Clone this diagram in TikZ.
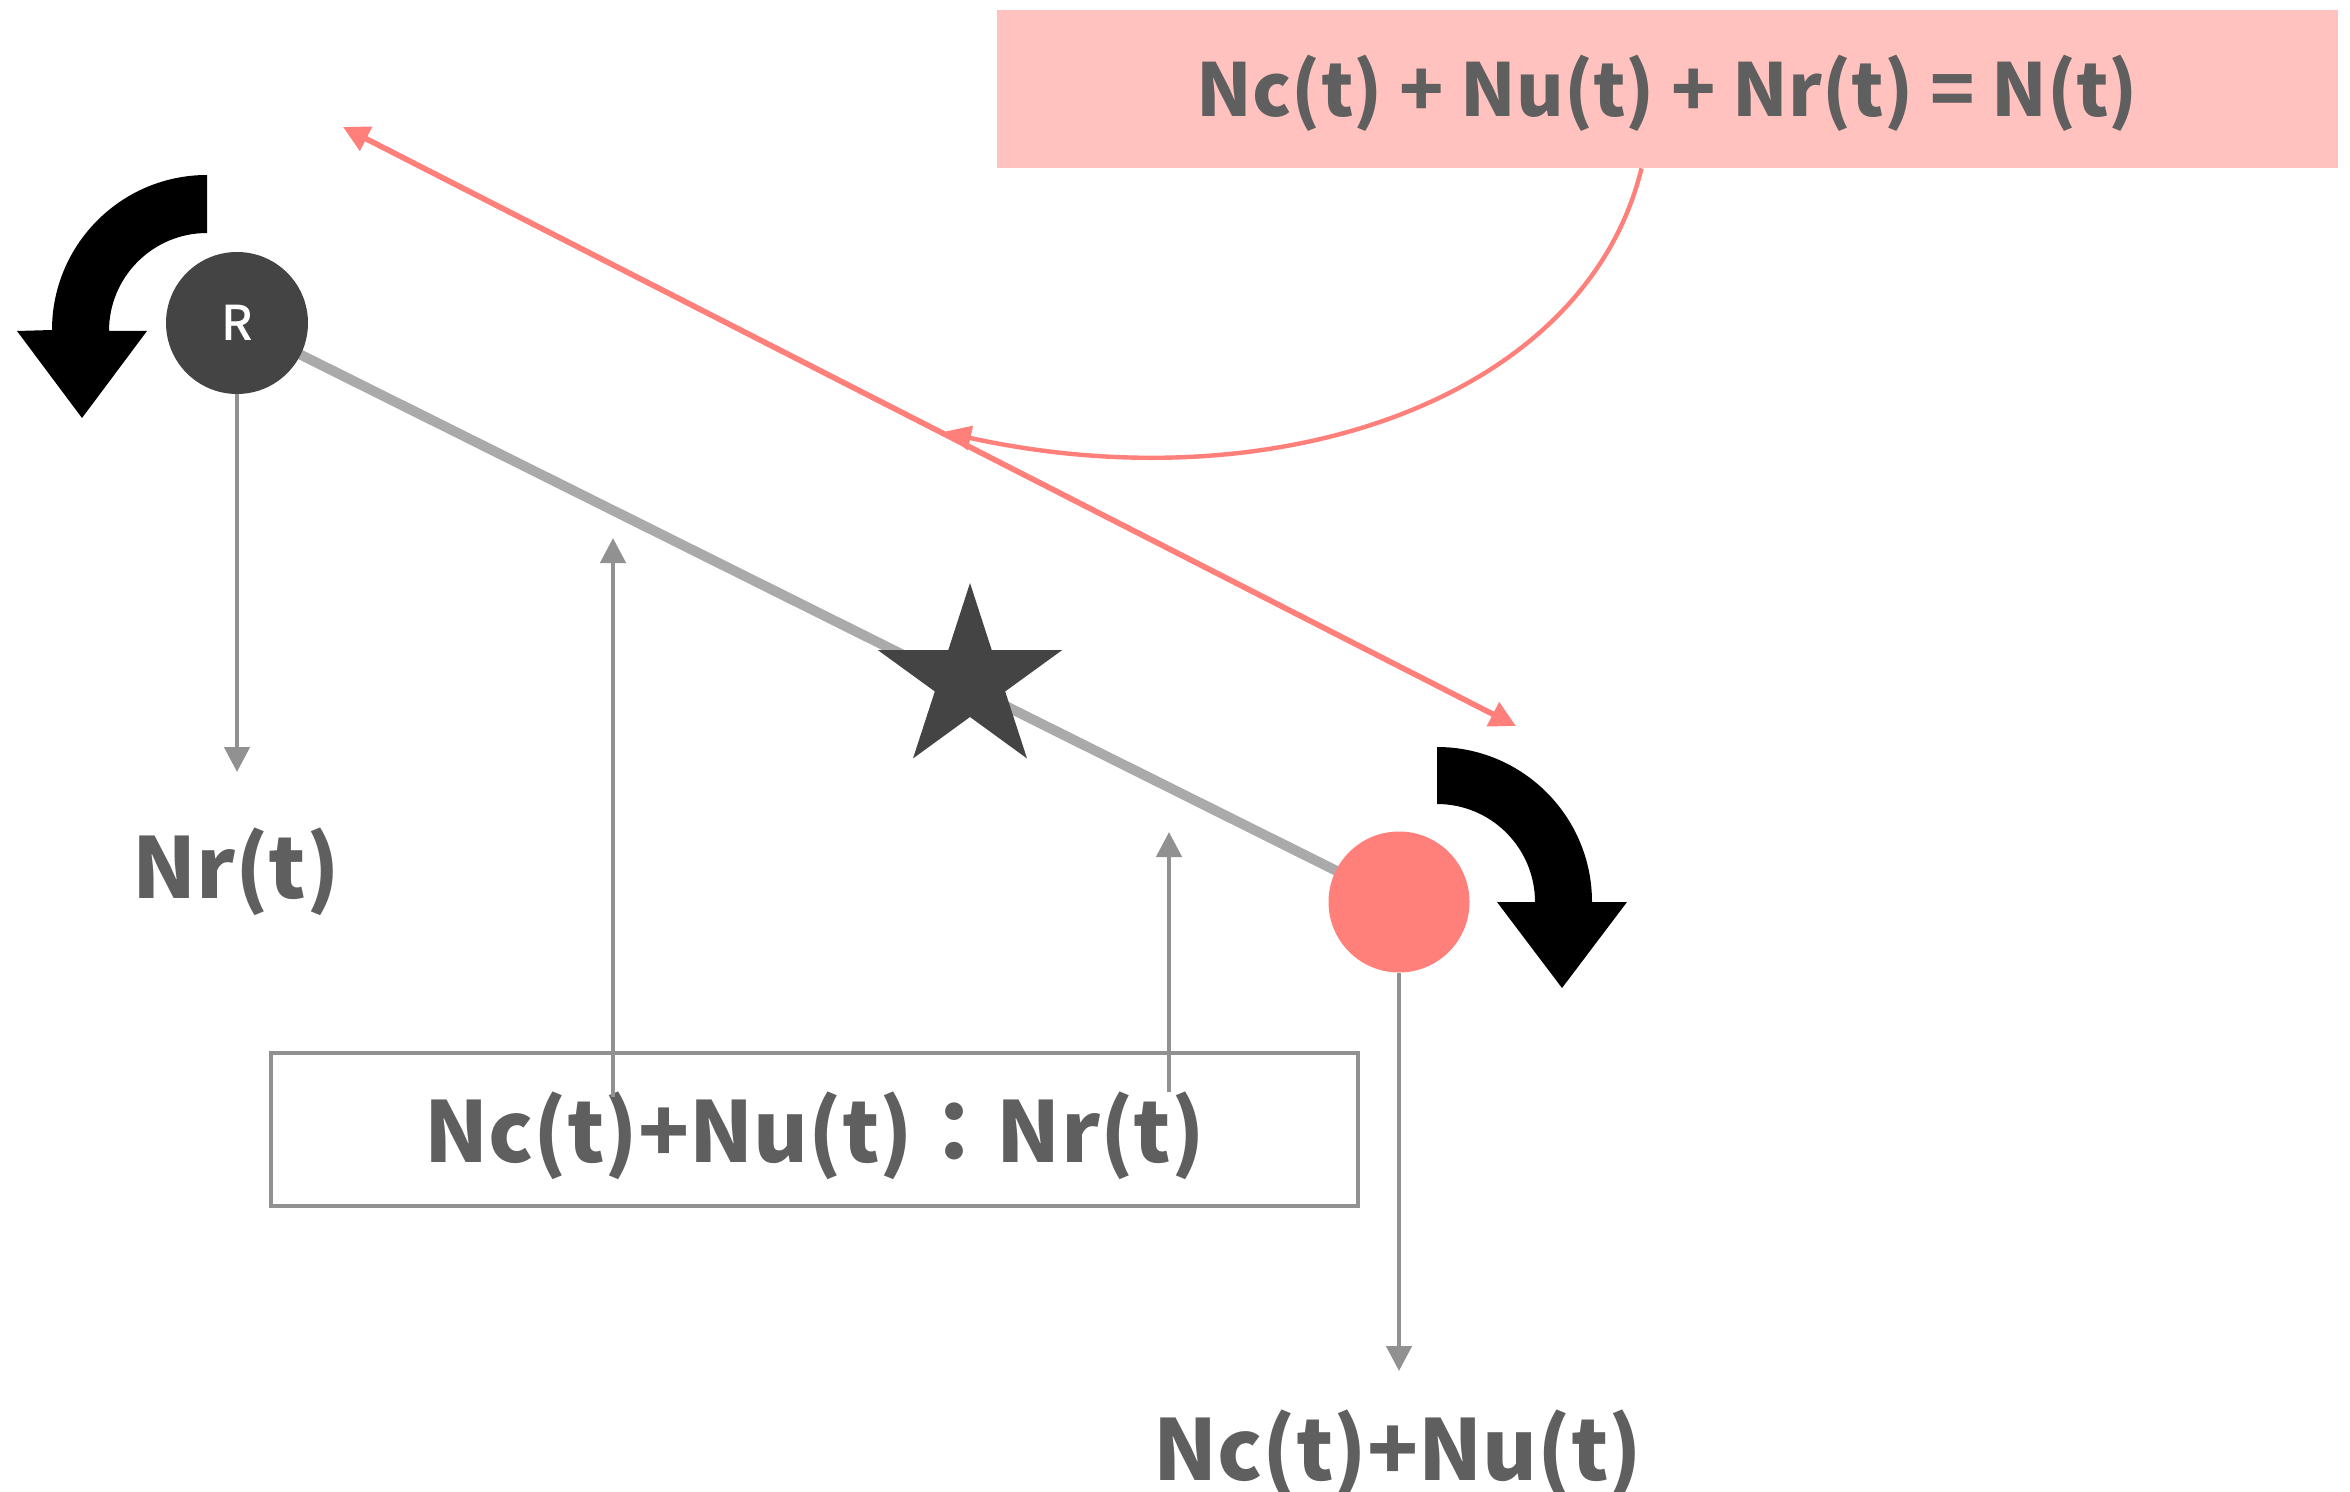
\documentclass[tikz,border=0pt]{standalone}
\usepackage{fontspec}
\newfontfamily\jpfont{Noto Sans CJK JP}
\newfontfamily\jpmed{Noto Sans CJK JP Medium}
\usetikzlibrary{arrows.meta,backgrounds}
\definecolor{redc}{RGB}{255,128,122}
\definecolor{pinkbox}{RGB}{255,194,191}
\definecolor{darkc}{RGB}{68,68,68}
\definecolor{linegray}{RGB}{170,170,170}
\definecolor{arrowgray}{RGB}{145,145,145}
\definecolor{textgray}{RGB}{95,95,95}
\begin{document}
\begin{tikzpicture}[x=0.5pt,y=0.5pt,
  garrow/.style={draw=arrowgray, line width=2.3pt, -{Triangle[length=12.5pt,width=12.5pt]}},
  redarrow/.style={draw=redc, line width=2.8pt, {Triangle[length=13pt,width=13pt]}-{Triangle[length=13pt,width=13pt]}},
  curvearrow/.style={draw=redc, line width=2.2pt, -{Triangle[length=14pt,width=12pt]}},
  lbl/.style={font=\jpfont\bfseries\fontsize{42}{42}\selectfont, text=textgray, inner sep=0pt, anchor=base},
  blockarrow/.style={fill=black},
  thickline/.style={draw=linegray, line width=5pt}]
\useasboundingbox (0,0) rectangle (2350,-1492);

% top formula box
\node[fill=pinkbox, minimum width=670.5pt, minimum height=78.75pt, inner sep=0pt,
      text height=27.75pt, text depth=0pt, text=textgray,
      font=\jpfont\bfseries\fontsize{36.5}{36.5}\selectfont] (top) at (1667.5,-89.25)
      {Nc(t) + Nu(t) + Nr(t) = N(t)};

% ratio box
\node[draw=arrowgray, line width=2pt, minimum width=543.5pt, minimum height=76.5pt, inner sep=0pt,
      text height=32.5pt, text depth=0pt, text=textgray,
      font=\jpfont\bfseries\fontsize{42}{42}\selectfont] (ratio) at (814.5,-1129.5)
      {Nc(t)+Nu(t)：Nr(t)};

% circles
\node[circle, fill=darkc, minimum size=71pt, inner sep=0pt, text=white,
      font=\jpmed\fontsize{24}{24}\selectfont] (R) at (237,-323) {R};
\node[circle, fill=redc, minimum size=70.5pt, inner sep=0pt] (P) at (1399,-902) {};

\begin{pgfonlayer}{background}
  \draw[thickline] (R.center) -- (P.center);
\end{pgfonlayer}

% star
\fill[darkc, shift={(970,-680)}] (90:97) -- (126:37) -- (162:97) -- (198:37) -- (234:97)
  -- (270:37) -- (306:97) -- (342:37) -- (18:97) -- (54:37) -- cycle;

% block curved arrows
\fill[blockarrow] (207,-175) arc[start angle=90,end angle=180,radius=77.5pt]
  -- (17,-331) -- (82,-418) -- (147,-331) -- (109,-331)
  arc[start angle=180,end angle=90,radius=49pt] -- cycle;
\fill[blockarrow] (1437,-747) arc[start angle=90,end angle=0,radius=77.5pt]
  -- (1627,-902) -- (1562,-988) -- (1497,-902) -- (1535,-902)
  arc[start angle=0,end angle=90,radius=49pt] -- cycle;

% red double arrow
\coordinate (ra) at (343,-127);
\coordinate (rb) at (1516,-726);
\draw[redarrow] (ra) -- (rb);

% curved red arrow from formula box
\coordinate (cs) at ([xshift=-13pt]top.south);
\coordinate (ce) at (943,-432);
\draw[curvearrow] (cs) .. controls (1585,-400) and (1275,-505) .. (ce);

% labels
\node[lbl] (nr) at (236,-898) {Nr(t)};
\node[lbl] (ncnu) at (1398,-1480) {Nc(t)+Nu(t)};

% gray arrows
\coordinate (rdown) at (237,-772);
\draw[garrow] (R.south) -- (rdown);
\coordinate (pdown) at (1399,-1371);
\draw[garrow] (P.south) -- (pdown);
\coordinate (u1s) at (613,-1097);
\coordinate (u1e) at (613,-538);
\draw[garrow] (u1s) -- (u1e);
\coordinate (u2s) at (1169,-1092);
\coordinate (u2e) at (1169,-832);
\draw[garrow] (u2s) -- (u2e);
\end{tikzpicture}
\end{document}
